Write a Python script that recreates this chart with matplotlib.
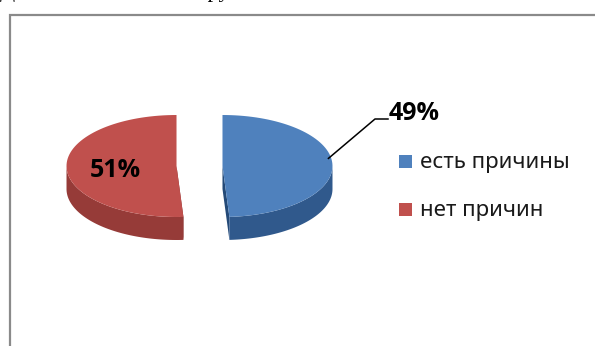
import numpy as np
import matplotlib
matplotlib.use("Agg")
import matplotlib.pyplot as plt
from matplotlib.patches import Polygon, Rectangle

# data
labels = ["есть причины", "нет причин"]
values = [49, 51]
top_colors = ["#4F81BD", "#C0504D"]
side_colors = ["#30598C", "#963B38"]
cut_colors = ["#244A78", "#7E2F2D"]

W, H = 595, 346
fig = plt.figure(figsize=(W / 100, H / 100), dpi=100)
ax = fig.add_axes([0, 0, 1, 1])
ax.set_xlim(0, W)
ax.set_ylim(H, 0)
ax.axis("off")

# cut-off caption line above the chart frame (only the descenders show)
ax.text(0, -2.5, "Данные о мнениях в группе", family="Liberation Serif",
        fontsize=16, va="baseline", ha="left", color="black")

# chart frame (runs off the right and bottom edges)
ax.plot([10, 10, W + 5], [H + 5, 15, 15], color="#8A8A8A", lw=1.6, solid_joinstyle="miter")

# pie geometry in pixels
cx0, cy = 199.5, 166
rx, ry, depth = 110, 51, 23
explode = 23


def arc(cx, t1, t2, dy=0, n=80):
    t = np.radians(np.linspace(t1, t2, n))
    return np.column_stack([cx + rx * np.cos(t), cy - ry * np.sin(t) + dy])


def pt(cx, t, dy=0):
    t = np.radians(t)
    return np.array([cx + rx * np.cos(t), cy - ry * np.sin(t) + dy])


total = sum(values)
start = 90.0
slices = []
for v in values:
    sweep = 360.0 * v / total
    # excel style: clockwise from 12 o'clock
    t2 = start
    t1 = start - sweep
    mid = (t1 + t2) / 2
    cx = cx0 + explode * np.cos(np.radians(mid))
    slices.append((cx, t1, t2, mid))
    start = t1

for i, (cx, t1, t2, mid) in enumerate(slices):
    c = np.array([cx, cy])
    # cut faces
    for t in (t1, t2):
        e = pt(cx, t)
        quad = [c, e, e + [0, depth], c + [0, depth]]
        ax.add_patch(Polygon(quad, closed=True, fc=cut_colors[i], ec="none", zorder=2))
    # outer side, only the front half
    a = np.clip(np.arange(np.floor(t1), np.ceil(t2) + 1), t1, t2)
    front = np.sin(np.radians(a)) <= 0.001
    if front.any():
        fa = a[front]
        top = arc(cx, fa.min(), fa.max())
        bot = arc(cx, fa.max(), fa.min(), dy=depth)
        ax.add_patch(Polygon(np.vstack([top, bot]), closed=True, fc=side_colors[i],
                             ec="none", zorder=3))
    # top face
    face = np.vstack([c, arc(cx, t1, t2)])
    ax.add_patch(Polygon(face, closed=True, fc=top_colors[i], ec="none", zorder=4))

# percent labels
lab_font = dict(family="Open Sans", fontweight="bold", fontsize=18, color="black", zorder=6)
cx_b, _, _, mid_b = slices[0]
p0 = pt(cx_b, mid_b) + [-4, -6]
ax.plot([p0[0], 375, 388], [p0[1], 119, 119], color="black", lw=1.1, zorder=5)
ax.text(389, 120, f"{values[0]}%", ha="left", va="baseline", **lab_font)
cx_r, _, _, mid_r = slices[1]
lx = cx_r + 0.56 * rx * np.cos(np.radians(mid_r))
ax.text(lx, 177, f"{values[1]}%", ha="center", va="baseline", **lab_font)

# legend
for i, lab in enumerate(labels):
    y = 162 + 48 * i
    ax.add_patch(Rectangle((399, y - 7), 13, 13, fc=top_colors[i], ec="none"))
    ax.text(420, y + 6, lab, family="Noto Sans", fontsize=16, ha="left",
            va="baseline", color="#1a1a1a")

fig.savefig("out.png", dpi=100)
